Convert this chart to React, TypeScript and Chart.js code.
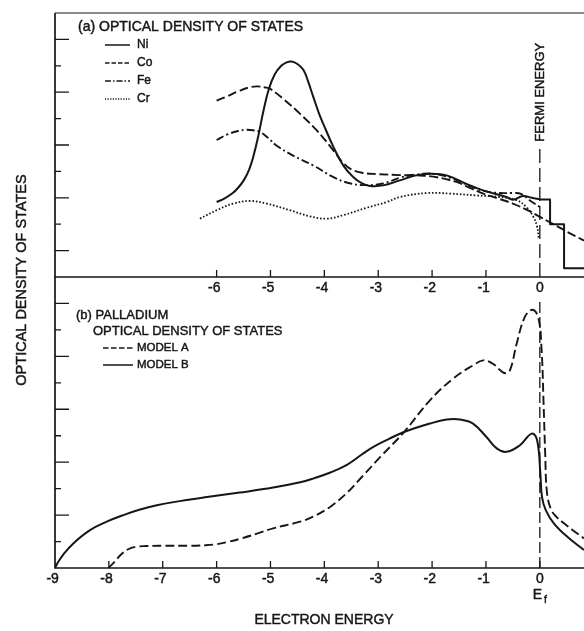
import { useEffect, useRef } from "react";
import { Chart, registerables } from "chart.js";

Chart.register(...registerables);

const FONT = '"Liberation Sans", Arial, Helvetica, sans-serif';
const INK = "#161616";

// Electron energy range (eV relative to E_f), shared by both panels
const energyMin = -9;
const energyMax = 0.82;

// (a) optical density of states of the 3d metals
const niEnergy = [-6.0, -5.85, -5.7, -5.6, -5.5, -5.4, -5.32, -5.23, -5.13, -5.03, -4.92, -4.8, -4.7, -4.61, -4.5, -4.39, -4.3, -4.21, -4.1, -4.02, -3.83, -3.65, -3.46, -3.3, -3.15, -2.91, -2.6, -2.3, -2.04, -1.73, -1.36, -1.05, -0.62, -0.5, -0.31, -0.15, 0];
const niDensity = [2.84, 2.98, 3.18, 3.38, 3.65, 4.05, 4.55, 5.3, 6.3, 7.12, 7.68, 8.0, 8.13, 8.16, 8.07, 7.85, 7.4, 6.85, 6.2, 5.8, 4.92, 4.23, 3.78, 3.55, 3.45, 3.47, 3.66, 3.85, 3.91, 3.85, 3.53, 3.28, 3.03, 2.93, 3.07, 3.0, 2.94];
// histogram tail of the Ni curve above the Fermi energy
const niTailEnergy = [0, 0.19, 0.45, 0.82];
const niTailDensity = [2.94, 2.0, 0.33, 0.33];

const coEnergy = [-6.0, -5.8, -5.6, -5.4, -5.25, -5.1, -5.0, -4.76, -4.45, -4.14, -3.83, -3.65, -3.5, -3.3, -3.03, -2.6, -2.3, -1.98, -1.55, -1.3, -1.05, -0.74, -0.5, -0.25, 0, 0.25, 0.5, 0.82];
const coDensity = [6.68, 6.85, 7.03, 7.18, 7.22, 7.18, 7.12, 6.74, 6.18, 5.55, 4.79, 4.32, 4.08, 3.95, 3.9, 3.86, 3.85, 3.8, 3.6, 3.38, 3.16, 2.95, 2.78, 2.55, 2.28, 2.0, 1.72, 1.38];

const feEnergy = [-6.0, -5.8, -5.6, -5.44, -5.3, -5.19, -5.05, -4.89, -4.58, -4.21, -3.83, -3.53, -3.22, -2.91, -2.6, -2.3, -1.98, -1.61, -1.3, -1.05, -0.74, -0.5, -0.35, -0.19, 0];
const feDensity = [5.19, 5.4, 5.53, 5.58, 5.55, 5.49, 5.28, 4.98, 4.6, 4.23, 3.78, 3.55, 3.48, 3.54, 3.76, 3.88, 3.91, 3.72, 3.45, 3.26, 3.18, 3.18, 3.15, 2.91, 2.65];

const crEnergy = [-6.31, -6.0, -5.69, -5.38, -5.07, -4.64, -4.27, -3.96, -3.65, -3.22, -2.84, -2.6, -2.1, -1.67, -1.18, -0.74, -0.43, -0.25, -0.12, -0.05, -0.02];
const crDensity = [2.21, 2.53, 2.78, 2.88, 2.78, 2.53, 2.3, 2.21, 2.34, 2.62, 2.84, 3.03, 3.18, 3.16, 3.09, 3.03, 2.91, 2.65, 2.28, 1.9, 1.46];

// (b) palladium, two model calculations
const modelAEnergy = [-8.01, -7.9, -7.78, -7.65, -7.5, -7.3, -7.0, -6.5, -6.2, -6.0, -5.8, -5.57, -5.25, -4.95, -4.45, -4.21, -3.9, -3.59, -3.3, -2.97, -2.52, -2.04, -1.61, -1.24, -1.05, -0.87, -0.75, -0.64, -0.55, -0.43, -0.28, -0.14, -0.03, 0.03, 0.07, 0.1, 0.13, 0.2, 0.3, 0.45, 0.6, 0.82];
const modelADensity = [0, 0.22, 0.5, 0.7, 0.8, 0.83, 0.84, 0.84, 0.86, 0.9, 0.98, 1.1, 1.3, 1.5, 1.75, 1.94, 2.3, 2.82, 3.45, 4.18, 5.14, 6.34, 7.16, 7.66, 7.85, 7.72, 7.5, 7.36, 7.5, 8.48, 9.48, 9.76, 9.48, 8.35, 6.2, 4.3, 2.9, 2.25, 1.95, 1.69, 1.45, 1.12];

const modelBEnergy = [-9, -8.95, -8.85, -8.66, -8.35, -8.04, -7.73, -7.42, -7.11, -6.8, -6.18, -5.57, -4.95, -4.45, -4.21, -3.9, -3.59, -3.3, -3.09, -2.8, -2.52, -2.04, -1.73, -1.48, -1.24, -0.99, -0.8, -0.62, -0.37, -0.15, -0.05, 0.01, 0.04, 0.11, 0.26, 0.51, 0.82];
const modelBDensity = [0, 0.2, 0.5, 0.93, 1.43, 1.75, 2.0, 2.21, 2.37, 2.49, 2.68, 2.85, 3.04, 3.24, 3.38, 3.6, 3.89, 4.3, 4.58, 4.88, 5.14, 5.46, 5.61, 5.61, 5.46, 4.95, 4.52, 4.39, 4.64, 5.08, 4.83, 3.57, 2.69, 2.19, 1.69, 1.18, 0.68];

// Axis ticks
const upperEnergyLabels = [-6, -5, -4, -3, -2, -1, 0];
const lowerEnergyLabels = [-9, -8, -7, -6, -5, -4, -3, -2, -1, 0];
const upperEnergyMarks = [-6, -5, -4, -3, -2, -1];
const lowerEnergyMarks = [-8, -7, -6, -5, -4, -3, -2, -1, 0];
const upperDensityTicks = [1, 2, 3, 4, 5, 6, 7, 8, 9];
const lowerDensityTicks = [1, 2, 3, 4, 5, 6, 7, 8, 9, 10];

type Note = { text: string; x: number; y: number; size: number; align?: CanvasTextAlign; turn?: boolean };
type PanelSpec = {
  closeTop: boolean;
  labelTicks: number[];
  markTicks: number[];
  densityTicks: number[];
  longParity: number;
  fermiTop: number;
  fermiDash: number[];
  fermiText?: { text: string; at: number; size: number };
  notes: Note[];
  key: { x: number; y: number; row: number; sample: number; gap: number; size: number };
};

const pts = (xs: number[], ys: number[]) => xs.map((x, i) => ({ x, y: ys[i] }));

function curve(label: string, xs: number[], ys: number[], dash: number[], keyDash: number[] | null, width = 2, stepped = false) {
  return {
    label,
    data: pts(xs, ys),
    borderColor: INK,
    borderWidth: width,
    borderDash: dash,
    borderCapStyle: "butt",
    borderJoinStyle: "round",
    pointRadius: 0,
    fill: false,
    stepped: stepped ? "before" : false,
    tension: stepped ? 0 : 0.4,
    keyDash,
  };
}

// lettering is a touch heavier than the plain face, so give it a hairline outline
function letter(ctx: CanvasRenderingContext2D, text: string, x: number, y: number) {
  ctx.fillText(text, x, y);
  ctx.strokeText(text, x, y);
}

function panelPlugin(spec: PanelSpec) {
  return {
    id: "panelFrame",
    afterDatasetsDraw(chart: any) {
      const { ctx, chartArea: a } = chart;
      const sx = chart.scales.x;
      const sy = chart.scales.y;
      ctx.save();
      ctx.strokeStyle = INK;
      ctx.fillStyle = INK;
      ctx.lineCap = "butt";

      // axis lines
      ctx.lineWidth = 1.7;
      ctx.beginPath();
      ctx.moveTo(a.left, a.top);
      ctx.lineTo(a.left, a.bottom);
      ctx.lineTo(a.right, a.bottom);
      ctx.stroke();
      if (spec.closeTop) {
        ctx.lineWidth = 1.2;
        ctx.beginPath();
        ctx.moveTo(a.left, a.top);
        ctx.lineTo(a.right, a.top);
        ctx.stroke();
      }

      // inward tick marks
      ctx.lineWidth = 1.3;
      ctx.beginPath();
      spec.densityTicks.forEach((v) => {
        const y = sy.getPixelForValue(v);
        const len = v % 2 === spec.longParity ? 14 : 6;
        ctx.moveTo(a.left, y);
        ctx.lineTo(a.left + len, y);
      });
      spec.markTicks.forEach((v) => {
        const x = sx.getPixelForValue(v);
        ctx.moveTo(x, a.bottom);
        ctx.lineTo(x, a.bottom - 7);
      });
      ctx.stroke();

      // Fermi energy marker
      const fx = sx.getPixelForValue(0);
      ctx.lineWidth = 1.3;
      ctx.setLineDash(spec.fermiDash);
      ctx.beginPath();
      ctx.moveTo(fx, a.bottom);
      ctx.lineTo(fx, sy.getPixelForValue(spec.fermiTop));
      ctx.stroke();
      ctx.setLineDash([]);

      ctx.textBaseline = "middle";
      ctx.lineWidth = 0.45;
      ctx.lineJoin = "round";
      if (spec.fermiText) {
        ctx.save();
        ctx.font = `${spec.fermiText.size}px ${FONT}`;
        ctx.translate(fx + 1, sy.getPixelForValue(spec.fermiText.at));
        ctx.rotate(-Math.PI / 2);
        ctx.textAlign = "center";
        letter(ctx, spec.fermiText.text, 0, 0);
        ctx.restore();
      }

      // energy labels, digit centred on its tick
      ctx.font = `14px ${FONT}`;
      const half = ctx.measureText("0").width / 2;
      ctx.textAlign = "right";
      spec.labelTicks.forEach((v) => {
        letter(ctx, String(v), sx.getPixelForValue(v) + half, a.bottom + 11);
      });

      // captions
      spec.notes.forEach((n) => {
        ctx.font = `${n.size}px ${FONT}`;
        ctx.textAlign = n.align || "left";
        if (n.turn) {
          ctx.save();
          ctx.translate(n.x, n.y);
          ctx.rotate(-Math.PI / 2);
          letter(ctx, n.text, 0, 0);
          ctx.restore();
        } else {
          letter(ctx, n.text, n.x, n.y);
        }
      });

      // key
      const k = spec.key;
      const keyed = chart.data.datasets.filter((d: any) => d.keyDash);
      keyed.forEach((d: any, i: number) => {
        const y = k.y + i * k.row;
        ctx.lineWidth = 1.5;
        ctx.setLineDash(d.keyDash);
        ctx.beginPath();
        ctx.moveTo(k.x, y);
        ctx.lineTo(k.x + k.sample, y);
        ctx.stroke();
        ctx.setLineDash([]);
        ctx.lineWidth = 0.45;
        ctx.font = `${k.size}px ${FONT}`;
        ctx.textAlign = "left";
        letter(ctx, d.label, k.x + k.sample + k.gap, y);
      });
      ctx.restore();
    },
  };
}

function makeConfig(datasets: any[], densityMax: number, padding: any, spec: PanelSpec) {
  return {
    type: "line",
    data: { datasets },
    options: {
      responsive: false,
      animation: false,
      devicePixelRatio: 1,
      layout: { padding },
      plugins: { legend: { display: false }, tooltip: { enabled: false } },
      scales: {
        x: { type: "linear", min: energyMin, max: energyMax, display: false },
        y: { type: "linear", min: 0, max: densityMax, display: false },
      },
    },
    plugins: [panelPlugin(spec)],
  } as any;
}

export default function App() {
  const upperRef = useRef<HTMLCanvasElement>(null);
  const lowerRef = useRef<HTMLCanvasElement>(null);

  useEffect(() => {
    const upperSets = [
      curve("Ni", niEnergy, niDensity, [], []),
      curve("Co", coEnergy, coDensity, [9, 3.5], [4.5, 2], 1.9),
      curve("Fe", feEnergy, feDensity, [8, 3, 2, 3], [6, 2, 1.5, 2], 1.9),
      curve("Cr", crEnergy, crDensity, [1.6, 1.9], [1.2, 1.4], 1.8),
      curve("Ni", niTailEnergy, niTailDensity, [], null, 2, true),
    ];
    const lowerSets = [
      curve("MODEL A", modelAEnergy, modelADensity, [9, 4], [5.5, 2.5], 1.9),
      curve("MODEL B", modelBEnergy, modelBDensity, [], []),
    ];

    const upper = new Chart(
      upperRef.current as HTMLCanvasElement,
      makeConfig(upperSets, 10, { left: 55, top: 13, right: 0, bottom: 354 }, {
        closeTop: true,
        labelTicks: upperEnergyLabels,
        markTicks: upperEnergyMarks,
        densityTicks: upperDensityTicks,
        longParity: 1,
        fermiTop: 5.0,
        fermiDash: [14, 5],
        fermiText: { text: "FERMI ENERGY", at: 7.0, size: 13 },
        notes: [
          { text: "(a) OPTICAL DENSITY OF STATES", x: 78, y: 27, size: 14 },
          { text: "OPTICAL DENSITY OF STATES", x: 22, y: 280, size: 14.5, align: "center", turn: true },
        ],
        key: { x: 105, y: 45, row: 18, sample: 25, gap: 7, size: 12 },
      })
    );

    const lower = new Chart(
      lowerRef.current as HTMLCanvasElement,
      makeConfig(lowerSets, 11, { left: 55, top: 277, right: 0, bottom: 63 }, {
        closeTop: false,
        labelTicks: lowerEnergyLabels,
        markTicks: lowerEnergyMarks,
        densityTicks: lowerDensityTicks,
        longParity: 0,
        fermiTop: 10.13,
        fermiDash: [11, 4],
        notes: [
          { text: "(b) PALLADIUM", x: 76, y: 315, size: 13 },
          { text: "OPTICAL DENSITY OF STATES", x: 93, y: 331, size: 13 },
          { text: "ELECTRON ENERGY", x: 324, y: 620, size: 14, align: "center" },
          { text: "E", x: 537.5, y: 595, size: 14, align: "center" },
          { text: "f", x: 545.5, y: 600, size: 10.5, align: "center" },
        ],
        key: { x: 103, y: 348, row: 17, sample: 30, gap: 4, size: 11.5 },
      })
    );

    return () => {
      upper.destroy();
      lower.destroy();
    };
  }, []);

  return (
    <div style={{ position: "absolute", left: 0, top: 0, width: 584, height: 631, background: "#fff", overflow: "hidden" }}>
      <canvas ref={upperRef} width={584} height={631} style={{ position: "absolute", left: 0, top: 0 }} />
      <canvas ref={lowerRef} width={584} height={631} style={{ position: "absolute", left: 0, top: 0 }} />
    </div>
  );
}
